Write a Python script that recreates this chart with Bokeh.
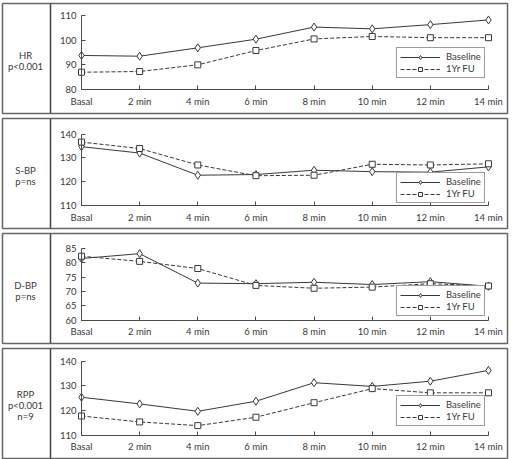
from bokeh.plotting import figure
from bokeh.layouts import column
from bokeh.models import (LinearAxis, FixedTicker, Span, Legend, LegendItem,
                          Range1d, ColumnDataSource)
from bokeh.core.properties import value
from bokeh.embed import file_html
from bokeh.resources import INLINE

# --- data -------------------------------------------------------------
time_labels = ["Basal", "2 min", "4 min", "6 min", "8 min", "10 min", "12 min", "14 min"]

hr_baseline = [93.8, 93.5, 96.9, 100.4, 105.3, 104.6, 106.3, 108.2]
hr_followup = [87.0, 87.3, 90.0, 95.8, 100.5, 101.5, 101.0, 101.0]

sbp_baseline = [134.7, 132.0, 122.7, 123.0, 124.8, 124.2, 124.0, 126.2]
sbp_followup = [136.6, 133.9, 127.0, 122.5, 122.7, 127.3, 127.0, 127.5]

dbp_baseline = [81.5, 83.2, 72.9, 72.7, 73.2, 72.4, 73.4, 71.8]
dbp_followup = [82.3, 80.5, 78.0, 72.1, 71.1, 71.5, 72.7, 71.9]

rpp_baseline = [125.3, 122.6, 119.6, 123.7, 131.2, 129.7, 131.8, 136.2]
rpp_followup = [117.7, 115.3, 113.8, 117.2, 123.1, 128.8, 127.1, 127.1]

panel_titles = ["HR\np<0.001", "S-BP\np=ns", "D-BP\np=ns", "RPP\np<0.001\nn=9"]
y_ticks = [[80, 90, 100, 110], [110, 120, 130, 140],
           [60, 65, 70, 75, 80, 85], [110, 120, 130, 140]]
series_labels = ["Baseline", "1Yr FU"]

# --- layout geometry (pixels inside each panel frame) -------------------
FIG_W, FIG_H = 512, 115
BORDER = dict(left=2, right=5, top=3, bottom=2)
FRAME_W = FIG_W - BORDER["left"] - BORDER["right"]
FRAME_H = FIG_H - BORDER["top"] - BORDER["bottom"]
X_FIRST_PX, X_LAST_PX = 79, 486          # Basal / 14 min positions
DIVIDER_PX = 48                          # label column separator
TITLE_PX = 23
axis_px = [(12, 86), (15.5, 87), (15, 86.5), (12.5, 86.5)]   # top/bottom tick offsets
legend_px = [(394, 35), (394, 25), (394, 27), (394, 32)]

FONT = "Lato"
INK = "#383838"
AXIS_INK = "#4a4a4a"

series = [(hr_baseline, hr_followup), (sbp_baseline, sbp_followup),
          (dbp_baseline, dbp_followup), (rpp_baseline, rpp_followup)]

x_idx = list(range(len(time_labels)))
kx = (X_LAST_PX - X_FIRST_PX) / (len(time_labels) - 1)
x_start = -X_FIRST_PX / kx
x_end = x_start + FRAME_W / kx


def px_to_x(px):
    return x_start + px / kx


figs = []
for i, (base, fu) in enumerate(series):
    ymin, ymax = y_ticks[i][0], y_ticks[i][-1]
    top_px, bot_px = axis_px[i]
    ky = (bot_px - top_px) / (ymax - ymin)
    y_end = ymax + top_px / ky
    y_start = ymin - (FRAME_H - bot_px) / ky

    p = figure(width=FIG_W, height=FIG_H, output_backend="svg", toolbar_location=None,
               x_range=Range1d(x_start, x_end), y_range=Range1d(y_start, y_end),
               x_axis_location=None, y_axis_location=None,
               min_border_left=BORDER["left"], min_border_right=BORDER["right"],
               min_border_top=BORDER["top"], min_border_bottom=BORDER["bottom"])
    p.grid.visible = False
    p.outline_line_color = "#666666"
    p.outline_line_width = 1.5
    p.background_fill_color = "white"
    p.border_fill_color = "white"

    # axes placed inside the panel frame
    yaxis = LinearAxis(fixed_location=0, ticker=FixedTicker(ticks=y_ticks[i]),
                       bounds=(ymin, ymax))
    xaxis = LinearAxis(fixed_location=ymin, ticker=FixedTicker(ticks=x_idx),
                       bounds=(0, len(time_labels) - 1),
                       major_label_overrides={k: lab for k, lab in enumerate(time_labels)})
    for ax in (xaxis, yaxis):
        ax.axis_line_color = AXIS_INK
        ax.major_tick_line_color = AXIS_INK
        ax.major_tick_in = 4
        ax.major_tick_out = 0
        ax.minor_tick_line_color = None
        ax.major_label_text_font = FONT
        ax.major_label_text_font_size = "9.5px"
        ax.major_label_text_color = INK
    yaxis.major_label_standoff = 5
    xaxis.major_label_standoff = 6
    p.add_layout(yaxis, "left")
    p.add_layout(xaxis, "below")

    # label column
    p.add_layout(Span(location=px_to_x(DIVIDER_PX), dimension="height",
                      line_color="#444444", line_width=1.5))
    mid_y = y_start + (FRAME_H / 2 - 2) / ky
    p.text(x=[px_to_x(TITLE_PX)], y=[mid_y], text=[panel_titles[i]],
           text_font=value(FONT), text_font_size="9.5px", text_color=INK,
           text_align="center", text_baseline="middle", text_line_height=1.0)

    src = ColumnDataSource(dict(x=x_idx, base=base, fu=fu))
    l1 = p.line("x", "base", source=src, line_color=INK, line_width=1)
    s1 = p.scatter("x", "base", source=src, marker="diamond", size=8,
                   line_color=INK, fill_color="white", line_width=1)
    l2 = p.line("x", "fu", source=src, line_color=INK, line_width=1, line_dash="4 2")
    s2 = p.scatter("x", "fu", source=src, marker="square", size=6,
                   line_color=INK, fill_color="white", line_width=1)

    legend = Legend(items=[LegendItem(label=series_labels[0], renderers=[l1, s1]),
                           LegendItem(label=series_labels[1], renderers=[l2, s2])],
                    location=legend_px[i], orientation="vertical",
                    glyph_width=40, glyph_height=10, label_height=10,
                    label_standoff=6, spacing=1, padding=3, margin=0,
                    label_text_font=FONT, label_text_font_size="9.5px",
                    label_text_color=INK, border_line_color=INK, border_line_width=1,
                    background_fill_color="white", background_fill_alpha=1.0)
    p.add_layout(legend)
    figs.append(p)

layout = column(*figs, spacing=0)
open("out.html", "w").write(file_html(layout, INLINE))
